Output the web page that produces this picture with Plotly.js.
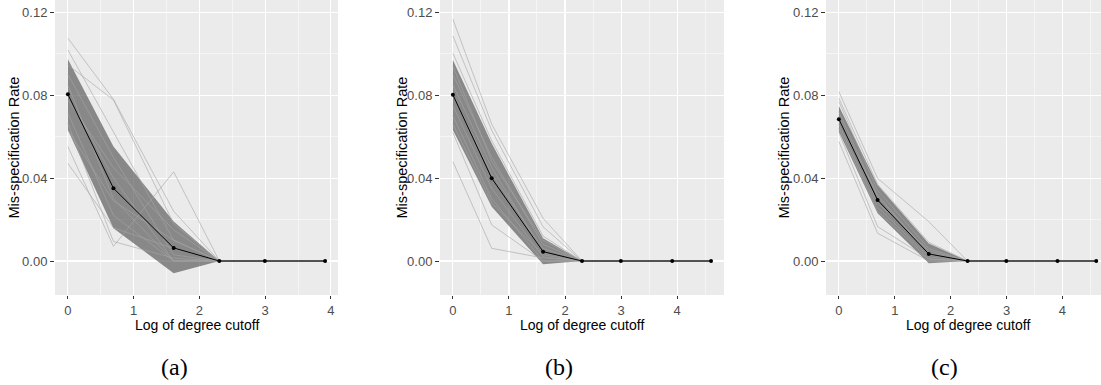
<!DOCTYPE html>
<html>
<head>
<meta charset="utf-8">
<script src="https://cdn.plot.ly/plotly-3.0.1.min.js"></script>
<style>html,body{margin:0;padding:0;background:#fff;}#chart{width:1101px;height:385px;}</style>
</head>
<body>
<div id="chart"></div>
<script>
// ---------- data ----------
const logCutoffA = [0, 0.693, 1.609, 2.303, 2.996, 3.912];
const logCutoffBC = [0, 0.693, 1.609, 2.303, 2.996, 3.912, 4.605];

// panel (a)
const meanA  = [0.0804, 0.0351, 0.0063, 0, 0, 0];
const upperA = [0.0973, 0.0552, 0.0190, 0, 0, 0];
const lowerA = [0.0632, 0.0158, -0.0059, 0, 0, 0];
const runsA = [
  [0.1075, 0.0780, 0.0240, 0, 0, 0],
  [0.1018, 0.0620, 0.0100, 0, 0, 0],
  [0.0946, 0.0777, 0.0180, 0, 0, 0],
  [0.0900, 0.0500, 0.0030, 0, 0, 0],
  [0.0850, 0.0300, 0.0000, 0, 0, 0],
  [0.0777, 0.0450, 0.0150, 0, 0, 0],
  [0.0713, 0.0220, 0.0000, 0, 0, 0],
  [0.0664, 0.0094, 0.0014, 0, 0, 0],
  [0.0632, 0.0290, 0.0100, 0, 0, 0],
  [0.0552, 0.0071, 0.0430, 0, 0, 0],
  [0.0471, 0.0160, 0.0060, 0, 0, 0],
  [0.0800, 0.0400, 0.0000, 0, 0, 0]
];

// panel (b)
const meanB  = [0.0802, 0.0399, 0.0045, 0, 0, 0, 0];
const upperB = [0.0970, 0.0567, 0.0110, 0, 0, 0, 0];
const lowerB = [0.0632, 0.0262, -0.0016, 0, 0, 0, 0];
const runsB = [
  [0.1166, 0.0660, 0.0206, 0, 0, 0, 0],
  [0.1086, 0.0630, 0.0165, 0, 0, 0, 0],
  [0.1002, 0.0580, 0.0120, 0, 0, 0, 0],
  [0.0479, 0.0061, 0.0015, 0, 0, 0, 0],
  [0.0620, 0.0174, 0.0000, 0, 0, 0, 0],
  [0.0900, 0.0500, 0.0080, 0, 0, 0, 0],
  [0.0850, 0.0450, 0.0040, 0, 0, 0, 0],
  [0.0750, 0.0350, 0.0020, 0, 0, 0, 0],
  [0.0700, 0.0300, 0.0000, 0, 0, 0, 0],
  [0.0800, 0.0420, 0.0060, 0, 0, 0, 0],
  [0.0660, 0.0280, 0.0030, 0, 0, 0, 0],
  [0.0940, 0.0480, 0.0100, 0, 0, 0, 0]
];

// panel (c)
const meanC  = [0.0684, 0.0294, 0.0034, 0, 0, 0, 0];
const upperC = [0.0748, 0.0367, 0.0085, 0, 0, 0, 0];
const lowerC = [0.0624, 0.0230, -0.0011, 0, 0, 0, 0];
const runsC = [
  [0.0817, 0.0399, 0.0190, 0, 0, 0, 0],
  [0.0785, 0.0370, 0.0090, 0, 0, 0, 0],
  [0.0769, 0.0340, 0.0060, 0, 0, 0, 0],
  [0.0576, 0.0134, 0.0000, 0, 0, 0, 0],
  [0.0620, 0.0166, 0.0010, 0, 0, 0, 0],
  [0.0720, 0.0310, 0.0040, 0, 0, 0, 0],
  [0.0660, 0.0260, 0.0020, 0, 0, 0, 0],
  [0.0700, 0.0280, 0.0050, 0, 0, 0, 0],
  [0.0680, 0.0320, 0.0030, 0, 0, 0, 0],
  [0.0640, 0.0240, 0.0010, 0, 0, 0, 0]
];

const yTickVals = [0, 0.04, 0.08, 0.12];
const yTickText = ['0.00', '0.04', '0.08', '0.12'];
const xTickVals = [0, 1, 2, 3, 4];
const yTitle = 'Mis-specification Rate';
const xTitle = 'Log of degree cutoff';
const captions = ['(a)', '(b)', '(c)'];

// ---------- build ----------
const W = 1101, H = 385;
const traces = [];
function addPanel(x, mean, upper, lower, runs, xa, ya) {
  traces.push({
    x: x.concat(x.slice().reverse()),
    y: upper.concat(lower.slice().reverse()),
    fill: 'toself', fillcolor: 'rgba(80,80,80,0.64)',
    line: {width: 0}, mode: 'lines', hoverinfo: 'skip',
    xaxis: xa, yaxis: ya
  });
  runs.forEach(r => traces.push({
    x: x, y: r, mode: 'lines',
    line: {color: 'rgba(165,165,165,0.6)', width: 1},
    xaxis: xa, yaxis: ya
  }));
  traces.push({
    x: x, y: mean, mode: 'lines+markers',
    line: {color: '#000', width: 1},
    marker: {color: '#000', size: 4},
    xaxis: xa, yaxis: ya
  });
}
addPanel(logCutoffA, meanA, upperA, lowerA, runsA, 'x', 'y');
addPanel(logCutoffBC, meanB, upperB, lowerB, runsB, 'x2', 'y2');
addPanel(logCutoffBC, meanC, upperC, lowerC, runsC, 'x3', 'y3');

const tickFont = {family: 'Liberation Sans, Arial, sans-serif', size: 13, color: '#4D4D4D'};
function xAxis(domPx, range, anchor) {
  return {
    domain: [domPx[0] / W, domPx[1] / W], range: range, anchor: anchor,
    tickvals: xTickVals, ticks: 'outside', ticklen: 3, tickwidth: 1, tickcolor: '#333',
    showgrid: true, gridcolor: '#fff', gridwidth: 1.1, zeroline: false, showline: false,
    minor: {dtick: 0.5, tick0: 0, showgrid: true, gridcolor: '#fff', gridwidth: 0.5, ticks: ''},
    tickfont: tickFont, fixedrange: true
  };
}
function yAxis(anchor) {
  return {
    domain: [90 / H, 1], range: [-0.0164, 0.1259], anchor: anchor,
    tickvals: yTickVals, ticktext: yTickText, ticks: 'outside', ticklen: 4, tickwidth: 1, tickcolor: '#333',
    showgrid: true, gridcolor: '#fff', gridwidth: 1.1, zeroline: false, showline: false,
    minor: {tickvals: [0.02, 0.06, 0.10], showgrid: true, gridcolor: '#fff', gridwidth: 0.5, ticks: ''},
    tickfont: tickFont, fixedrange: true
  };
}
const panels = [
  {dom: [55, 338], range: [-0.196, 4.108], ytx: 14, cap: 174},
  {dom: [440, 724], range: [-0.23, 4.836], ytx: 402, cap: 559},
  {dom: [826, 1101], range: [-0.23, 4.69], ytx: 784, cap: 944}
];
const annotations = [];
panels.forEach((p, i) => {
  const cx = (p.dom[0] + (i === 2 ? 1109 : p.dom[1])) / 2;
  annotations.push({
    text: yTitle, textangle: -90, xref: 'paper', yref: 'paper',
    x: p.ytx / W, y: (H - 147.5) / H, xanchor: 'center', yanchor: 'middle', showarrow: false,
    font: {family: 'Liberation Sans, Arial, sans-serif', size: 14.5, color: '#000'}
  });
  annotations.push({
    text: xTitle, xref: 'paper', yref: 'paper',
    x: cx / W, y: (H - 325) / H, xanchor: 'center', yanchor: 'middle', showarrow: false,
    font: {family: 'Liberation Sans, Arial, sans-serif', size: 14, color: '#000'}
  });
  annotations.push({
    text: captions[i], xref: 'paper', yref: 'paper',
    x: p.cap / W, y: (H - 367) / H, xanchor: 'center', yanchor: 'middle', showarrow: false,
    font: {family: 'Liberation Serif, DejaVu Serif, serif', size: 24, color: '#000'}
  });
});

const layout = {
  width: W, height: H, margin: {l: 0, r: 0, t: 0, b: 0},
  paper_bgcolor: '#fff', plot_bgcolor: '#EBEBEB', showlegend: false,
  xaxis: xAxis(panels[0].dom, panels[0].range, 'y'),
  yaxis: yAxis('x'),
  xaxis2: xAxis(panels[1].dom, panels[1].range, 'y2'),
  yaxis2: yAxis('x2'),
  xaxis3: xAxis(panels[2].dom, panels[2].range, 'y3'),
  yaxis3: yAxis('x3'),
  annotations: annotations
};
Plotly.newPlot('chart', traces, layout, {displayModeBar: false, staticPlot: true});
</script>
</body>
</html>
